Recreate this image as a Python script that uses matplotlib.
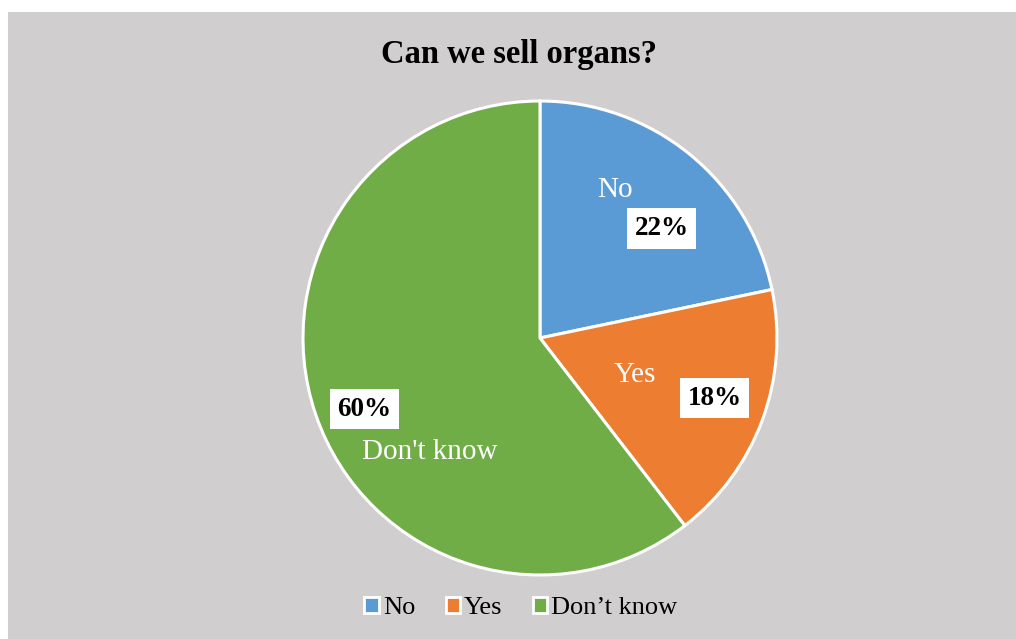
import numpy as np
import matplotlib.pyplot as plt
from matplotlib.patches import Rectangle

labels = ["No", "Yes", "Don't know"]
legend_labels = ["No", "Yes", "Don\u2019t know"]
shares = [21.7, 17.8, 60.4]
colors = ["#5B9BD5", "#ED7D31", "#70AD47"]

# label placement (radius, angle in degrees) for name and percent
name_pos = [(0.70, 63), (0.43, -21), (0.67, 226)]
pct_pos = [(0.69, 42), (0.78, -19), (0.80, 202)]

plt.rcParams['font.family'] = ['Liberation Serif', 'DejaVu Serif']

fig = plt.figure(figsize=(10.16, 6.39), dpi=100)
fig.patch.set_facecolor('white')
bg = Rectangle((8/1016, 0), 1, 1 - 12/639, transform=fig.transFigure,
               facecolor='#D0CECE', edgecolor='none', zorder=-10)
fig.patches.append(bg)

ax = fig.add_axes([(540-237)/1016, (639-575)/639, 474/1016, 474/639])
ax.set_zorder(1)
wedges, _ = ax.pie(shares, colors=colors, startangle=90, counterclock=False, radius=1,
                   wedgeprops=dict(edgecolor='white', linewidth=2.2))
ax.set_xlim(-1, 1)
ax.set_ylim(-1, 1)
ax.set_aspect('equal')
ax.axis('off')

total = sum(shares)
for i in range(len(labels)):
    r, a = name_pos[i]
    ax.text(r*np.cos(np.radians(a)), r*np.sin(np.radians(a)), labels[i],
            ha='center', va='center', fontsize=21, color='white')
    r, a = pct_pos[i]
    ax.text(r*np.cos(np.radians(a)), r*np.sin(np.radians(a)), "%d%%" % round(100*shares[i]/total),
            ha='center', va='center', fontsize=19.5, fontweight='bold', color='black',
            bbox=dict(boxstyle='square,pad=0.28', facecolor='white', edgecolor='none'))

fig.text(519/1016, 1 - 54/639, "Can we sell organs?", ha='center', va='center',
         fontsize=23.5, fontweight='bold')

handles = [Rectangle((0, 0), 1, 1, facecolor=c, edgecolor='white', linewidth=2) for c in colors]
fig.legend(handles, legend_labels, loc='center', bbox_to_anchor=(521/1016, 1 - 608/639),
           ncol=3, frameon=False, fontsize=19, handlelength=0.55, handleheight=0.55,
           handletextpad=0.15, columnspacing=1.15)

fig.savefig('out.png', dpi=100)
